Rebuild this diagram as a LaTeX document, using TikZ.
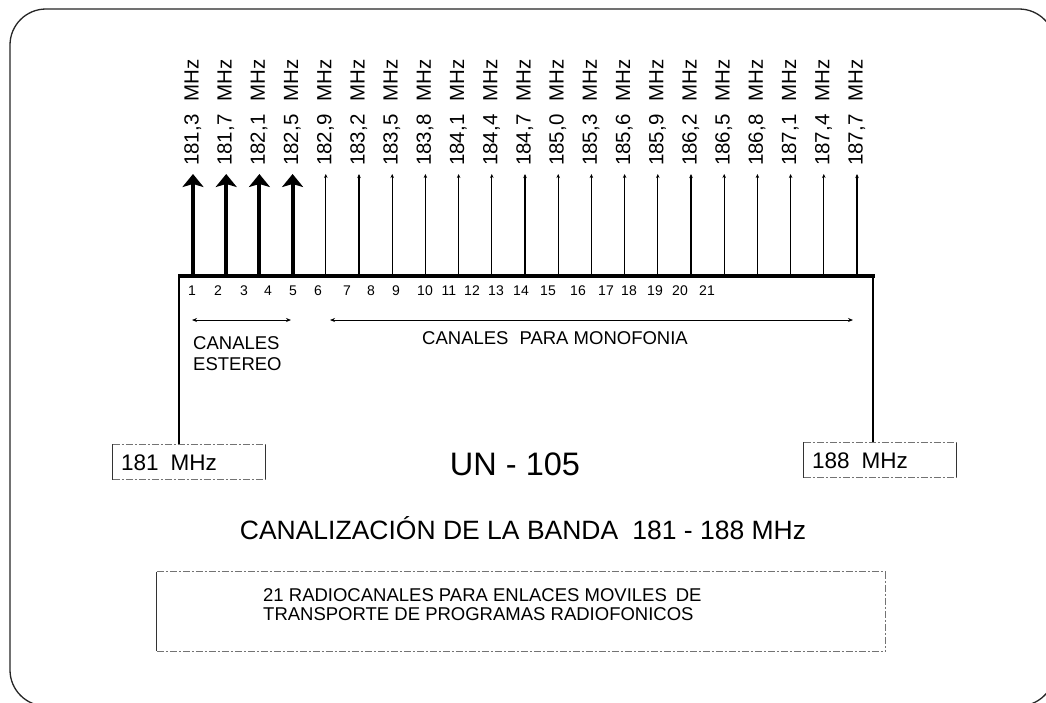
\documentclass[tikz,border=0pt]{standalone}
\usepackage{fontspec}
\setmainfont{Liberation Sans}
\usetikzlibrary{arrows.meta}
\begin{document}
\begin{tikzpicture}[x=1pt,y=-1pt,
  frame/.style={line width=1.3pt,draw=black!85,rounded corners=36pt},
  thickarr/.style={line width=4pt,-{Stealth[width=21pt,length=13pt,inset=3pt]}},
  thinarr/.style={line width=1.2pt,-{Stealth[width=3.5pt,length=4pt]}},
  busline/.style={line width=4.5pt},
  sideline/.style={line width=1.2pt},
  freqlabel/.style={rotate=90,anchor=base west,inner sep=0pt,font=\fontsize{20.5}{24}\selectfont},
  chnum/.style={anchor=base,inner sep=0pt,font=\fontsize{14}{16}\selectfont},
  spanarr/.style={line width=0.9pt,{Stealth[width=4pt,length=5pt]}-{Stealth[width=4pt,length=5pt]}},
  midtext/.style={inner sep=0pt,font=\fontsize{18.5}{20}\selectfont},
  freqbox/.style={minimum width=152pt,minimum height=35pt,inner sep=0pt},
  boxside/.style={line width=0.9pt,draw=black!80},
  boxdash/.style={line width=0.8pt,draw=black!55,dash pattern=on 7pt off 2pt on 2pt off 2pt}
]
\useasboundingbox (0,0) rectangle (1046,702);
\fill[white] (0,0) rectangle (1046,702);
\draw[frame] (10,9) rectangle (1055,706);

% channel lines and labels
\foreach \a/\b [count=\i from 0] in {181/3,181/7,182/1,182/5,182/9,183/2,183/5,183/8,184/1,184/4,184/7,185/0,185/3,185/6,185/9,186/2,186/5,186/8,187/1,187/4,187/7}{
  \coordinate (b\i) at ({193+33.2*\i},276);
  \coordinate (t\i) at ({193+33.2*\i},174);
  \node[freqlabel] (f\i) at ({198.5+33.2*\i},166) {\a,\b\hspace{13pt}MHz};
}
\foreach \i in {0,...,3}{ \draw[thickarr] (b\i) -- (t\i); }
\foreach \i in {4,...,20}{ \draw[sideline,thinarr] (b\i) -- (t\i); }

% bus line
\coordinate (busL) at (178,276);
\coordinate (busR) at (875,276);
\draw[busline] (busL) -- (busR);

% channel numbers
\foreach \x [count=\n] in {192,218,244,268,293,318,347,371,396,425,449,472,496,521,548,578,606,629,655,680,707}{
  \node[chnum] (n\n) at (\x,295) {\n};
}

% span arrows
\coordinate (stL) at (192,320);
\coordinate (stR) at (291,320);
\coordinate (moL) at (330,320);
\coordinate (moR) at (853,320);
\draw[spanarr] (stL) -- (stR);
\draw[spanarr] (moL) -- (moR);
\node[midtext,anchor=base west] (can1) at (193,349) {CANALES};
\node[midtext,anchor=base west] (can2) at (193,370) {ESTEREO};
\node[midtext,anchor=base west] (mono) at (422,344) {CANALES\hspace{11pt}PARA MONOFONIA};

% frequency boxes
\node[freqbox] (lb) at (189,462) {};
\node[anchor=base west,inner sep=0pt,font=\fontsize{22.5}{26}\selectfont] (lbt) at (121,470) {181\hspace{12pt}MHz};
\node[freqbox] (rb) at (880,460) {};
\node[anchor=base west,inner sep=0pt,font=\fontsize{22.5}{26}\selectfont] (rbt) at (812,468) {188\hspace{12pt}MHz};
\foreach \bx in {lb,rb}{
  \draw[boxside] (\bx.north west) -- (\bx.south west);
  \draw[boxside] (\bx.north east) -- (\bx.south east);
  \draw[boxdash] (\bx.north west) -- (\bx.north east);
  \draw[boxdash] (\bx.south west) -- (\bx.south east);
}
\draw[sideline] (busL) ++(1,0) -- (lb.north -| 179,0);
\draw[sideline] (busR) ++(-2,0) -- (rb.north -| 873,0);

% titles
\node[inner sep=0pt,font=\fontsize{32.5}{36}\selectfont] (un) at (515,464) {UN - 105};
\node[inner sep=0pt,font=\fontsize{26.5}{30}\selectfont] (title) at (523,528) {CANALIZACIÓN DE LA BANDA\hspace{14pt}181 - 188 MHz};

% bottom box
\node[minimum width=728pt,minimum height=79pt,inner sep=0pt] (bb) at (521,611.5) {};
\draw[boxside] (bb.north west) -- (bb.south west);
\draw[boxdash] (bb.north east) -- (bb.south east);
\draw[boxdash] (bb.north west) -- (bb.north east);
\draw[boxdash] (bb.south west) -- (bb.south east);
\node[anchor=base west,inner sep=0pt,font=\fontsize{18.5}{20}\selectfont] (d1) at (263,601) {21 RADIOCANALES PARA ENLACES MOVILES\hspace{9pt}DE};
\node[anchor=base west,inner sep=0pt,font=\fontsize{18.5}{20}\selectfont] (d2) at (263,620) {TRANSPORTE DE PROGRAMAS RADIOFONICOS};
\end{tikzpicture}
\end{document}
